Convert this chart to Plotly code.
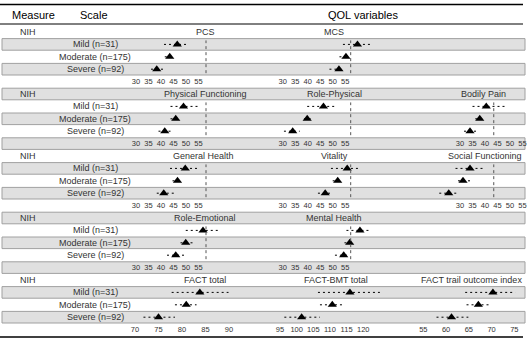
import plotly.graph_objects as go

# ---------------- data ----------------
groups = ["Mild (n=31)", "Moderate (n=175)", "Severe (n=92)"]
measure = "NIH"

pcs_est = [46.5, 43.5, 38.3]; pcs_lo = [41.2, 41.5, 36.0]; pcs_hi = [51.0, 45.3, 41.8]
mcs_est = [59.9, 55.3, 52.5]; mcs_lo = [54.1, 52.7, 48.7]; mcs_hi = [65.4, 56.4, 54.1]
pf_est = [49.0, 45.9, 41.5]; pf_lo = [43.8, 43.8, 39.0]; pf_hi = [54.7, 47.2, 43.8]
rp_est = [46.3, 39.8, 34.0]; rp_lo = [39.8, 38.5, 30.5]; rp_hi = [50.7, 41.2, 36.8]
bp_est = [40.5, 37.9, 34.0]; bp_lo = [35.0, 36.1, 31.6]; bp_hi = [48.0, 39.4, 36.7]
gh_est = [49.7, 46.6, 41.1]; gh_lo = [43.6, 44.6, 38.3]; gh_hi = [54.7, 48.0, 45.2]
vt_est = [55.8, 52.0, 47.0]; vt_lo = [49.3, 50.0, 44.1]; vt_hi = [60.9, 53.6, 50.0]
sf_est = [34.0, 31.2, 25.5]; sf_lo = [28.2, 29.2, 21.7]; sf_hi = [40.1, 34.0, 29.2]
re_est = [56.8, 49.9, 45.9]; re_lo = [49.9, 47.8, 42.4]; re_hi = [62.9, 53.4, 49.3]
mh_est = [60.9, 56.8, 54.4]; mh_lo = [55.5, 54.7, 50.9]; mh_hi = [65.4, 58.5, 56.8]
ft_est = [83.8, 80.9, 75.0]; ft_lo = [77.8, 78.5, 71.8]; ft_hi = [89.9, 83.1, 78.5]
fb_est = [116.0, 110.7, 101.5]; fb_lo = [106.4, 107.0, 96.3]; fb_hi = [125.0, 114.0, 107.0]
fo_est = [70.3, 67.1, 61.2]; fo_lo = [64.2, 64.5, 57.9]; fo_hi = [75.2, 69.7, 64.9]

# reference (dotted) line values as read on each panel's axis
ref_col1 = 58.0
ref_col2 = 57.2
ref_col3 = 43.5

sf36_ticks = [30, 35, 40, 45, 50, 55]
fact_total_ticks = [70, 75, 80, 85, 90]
fact_bmt_ticks = [95, 100, 105, 110, 115, 120]
fact_toi_ticks = [55, 60, 65, 70, 75]

# panels: (block, column, title, est, lo, hi, ref, ticks)
panels = [
    (0, 0, "PCS", pcs_est, pcs_lo, pcs_hi, ref_col1, sf36_ticks),
    (0, 1, "MCS", mcs_est, mcs_lo, mcs_hi, ref_col2, sf36_ticks),
    (1, 0, "Physical Functioning", pf_est, pf_lo, pf_hi, ref_col1, sf36_ticks),
    (1, 1, "Role-Physical", rp_est, rp_lo, rp_hi, ref_col2, sf36_ticks),
    (1, 2, "Bodily Pain", bp_est, bp_lo, bp_hi, ref_col3, sf36_ticks),
    (2, 0, "General Health", gh_est, gh_lo, gh_hi, ref_col1, sf36_ticks),
    (2, 1, "Vitality", vt_est, vt_lo, vt_hi, ref_col2, sf36_ticks),
    (2, 2, "Social Functioning", sf_est, sf_lo, sf_hi, ref_col3, sf36_ticks),
    (3, 0, "Role-Emotional", re_est, re_lo, re_hi, ref_col1, sf36_ticks),
    (3, 1, "Mental Health", mh_est, mh_lo, mh_hi, ref_col2, sf36_ticks),
    (4, 0, "FACT total", ft_est, ft_lo, ft_hi, None, fact_total_ticks),
    (4, 1, "FACT-BMT total", fb_est, fb_lo, fb_hi, None, fact_bmt_ticks),
    (4, 2, "FACT trail outcome index", fo_est, fo_lo, fo_hi, None, fact_toi_ticks),
]

# ---------------- layout geometry (pixels) ----------------
W, H = 528, 339
ROW0, ROWH = 32.0, 12.4
def rc(i):
    return ROW0 + ROWH * i
def px(x):
    return x / W
def py(y):
    return 1 - y / H

col_dom = [(128, 262), (272, 402), (412, 526)]
# axis calibration: (value, pixel, pixels per unit)
calib_sf36 = [(30, 136.0, 2.5), (30, 282.7, 2.5), (30, 460.0, 2.5)]
calib_fact = [(70, 135.0, 4.7), (95, 280.0, 3.33), (55, 423.3, 4.55)]
title_x = {"FACT trail outcome index": 471, "Social Functioning": 485,
           "Bodily Pain": 483, "General Health": 203, "FACT-BMT total": 336}
col_title_x = [205, 334, 483]

FONT = "Liberation Sans, Arial, sans-serif"
TXT = "#333333"

fig = go.Figure()
shapes = []
annotations = []
layout_axes = {}

# alternating grey bands
for i in range(1, 25, 2):
    c = rc(i)
    shapes.append(dict(type="rect", xref="paper", yref="paper",
                       x0=px(2), x1=px(525), y0=py(c + 5.8), y1=py(c - 5.8),
                       fillcolor="#e0e0e0", line=dict(color="#a0a0a0", width=1),
                       layer="below"))
# rules
for y, w in [(4.5, 1.6), (24.0, 1.0), (337.0, 1.4)]:
    shapes.append(dict(type="line", xref="paper", yref="paper",
                       x0=px(0), x1=px(523), y0=py(y), y1=py(y),
                       line=dict(color="black", width=w)))

# header
for text, x, anchor in [("Measure", 10, "left"), ("Scale", 94, "center"),
                        ("QOL variables", 363, "center")]:
    annotations.append(dict(text=text, x=px(x), y=py(15), xref="paper", yref="paper",
                            xanchor=anchor, yanchor="middle", showarrow=False,
                            font=dict(size=11, color="black", family=FONT)))

for b in range(5):
    annotations.append(dict(text=measure, x=px(28), y=py(rc(5 * b)), xref="paper",
                            yref="paper", xanchor="center", yanchor="middle",
                            showarrow=False, font=dict(size=9, color=TXT, family=FONT)))
    for g, name in enumerate(groups):
        annotations.append(dict(text=name, x=px(95), y=py(rc(5 * b + 1 + g)),
                                xref="paper", yref="paper", xanchor="center",
                                yanchor="middle", showarrow=False,
                                font=dict(size=9, color=TXT, family=FONT)))

for k, (b, col, title, est, lo, hi, ref, ticks) in enumerate(panels, start=1):
    xa = "x" if k == 1 else f"x{k}"
    ya = "y" if k == 1 else f"y{k}"
    L, R = col_dom[col]
    v0, p0, s = (calib_fact if b == 4 else calib_sf36)[col]
    rng = [v0 + (L - p0) / s, v0 + (R - p0) / s]
    top = rc(5 * b + 1) - ROWH / 2
    bot = rc(5 * b + 3) + ROWH / 2
    layout_axes["xaxis" if k == 1 else f"xaxis{k}"] = dict(
        domain=[px(L), px(R)], range=rng, anchor=ya, tickvals=ticks,
        showgrid=False, zeroline=False, showline=False, ticks="",
        tickfont=dict(size=7.5, color="#333", family=FONT), fixedrange=True)
    layout_axes["yaxis" if k == 1 else f"yaxis{k}"] = dict(
        domain=[py(bot), py(top)], range=[2.5, -0.5], anchor=xa, visible=False,
        fixedrange=True)
    xs, ys = [], []
    for g in range(3):
        xs += [lo[g], hi[g], None]
        ys += [g, g, None]
    fig.add_trace(go.Scatter(x=xs, y=ys, xaxis=xa, yaxis=ya, mode="lines",
                             line=dict(color="black", width=1, dash="2px,3px"),
                             hoverinfo="skip", showlegend=False))
    fig.add_trace(go.Scatter(x=est, y=[0, 1, 2], xaxis=xa, yaxis=ya, mode="markers",
                             marker=dict(symbol="triangle-up", size=8, color="black"),
                             showlegend=False))
    if ref is not None:
        shapes.append(dict(type="line", xref=xa, yref=f"{ya} domain", x0=ref, x1=ref,
                           y0=0.06, y1=0.94, line=dict(color="#555", width=1, dash="dot")))
    annotations.append(dict(text=title, x=px(title_x.get(title, col_title_x[col])),
                            y=py(rc(5 * b)), xref="paper", yref="paper",
                            xanchor="center", yanchor="middle", showarrow=False,
                            font=dict(size=9, color=TXT, family=FONT)))

fig.update_layout(width=W, height=H, margin=dict(l=0, r=0, t=0, b=0),
                  paper_bgcolor="white", plot_bgcolor="rgba(0,0,0,0)",
                  shapes=shapes, annotations=annotations, showlegend=False,
                  **layout_axes)
fig.write_html("out.html", config={"displayModeBar": False},
               post_script="document.body.style.margin='0px';"
                           "document.body.style.overflow='hidden';")
